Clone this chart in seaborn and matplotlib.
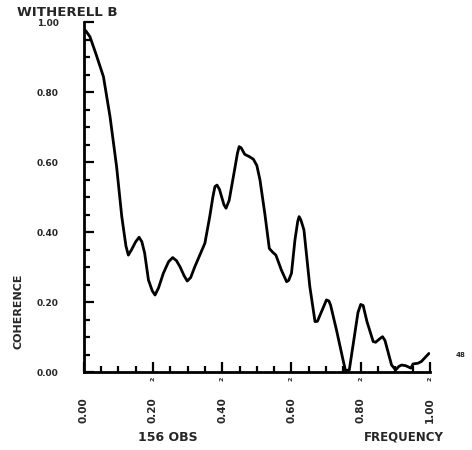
import numpy as np
import pandas as pd
import matplotlib
matplotlib.use("Agg")
import matplotlib.pyplot as plt
import seaborn as sns

# ---- data ----
freq = [0.000, 0.006, 0.018, 0.035, 0.057, 0.076, 0.095, 0.110, 0.122, 0.129,
        0.138, 0.150, 0.160, 0.168, 0.176, 0.187, 0.198, 0.206, 0.216, 0.230,
        0.245, 0.257, 0.268, 0.278, 0.290, 0.299, 0.309, 0.321, 0.350, 0.364,
        0.373, 0.379, 0.385, 0.392, 0.405, 0.411, 0.420, 0.434, 0.444, 0.449,
        0.455, 0.465, 0.479, 0.490, 0.500, 0.509, 0.523, 0.536, 0.546, 0.555,
        0.571, 0.586, 0.592, 0.600, 0.610, 0.618, 0.622, 0.627, 0.636, 0.653,
        0.668, 0.675, 0.690, 0.701, 0.708, 0.713, 0.730, 0.749, 0.756, 0.767,
        0.780, 0.792, 0.800, 0.807, 0.818, 0.836, 0.843, 0.856, 0.863, 0.870,
        0.889, 0.901, 0.910, 0.918, 0.930, 0.945, 0.951, 0.965, 0.975, 0.997]
coherence = [0.977, 0.975, 0.958, 0.910, 0.844, 0.730, 0.587, 0.444, 0.360, 0.334,
             0.349, 0.372, 0.385, 0.372, 0.340, 0.263, 0.232, 0.220, 0.240, 0.282,
             0.315, 0.327, 0.318, 0.301, 0.275, 0.260, 0.270, 0.301, 0.368, 0.444,
             0.500, 0.530, 0.534, 0.522, 0.478, 0.468, 0.490, 0.568, 0.625, 0.644,
             0.640, 0.622, 0.615, 0.608, 0.590, 0.549, 0.453, 0.353, 0.342, 0.334,
             0.291, 0.258, 0.262, 0.282, 0.377, 0.430, 0.444, 0.435, 0.406, 0.244,
             0.144, 0.145, 0.180, 0.206, 0.203, 0.191, 0.120, 0.034, 0.004, 0.006,
             0.091, 0.170, 0.193, 0.190, 0.144, 0.087, 0.085, 0.096, 0.101, 0.090,
             0.020, 0.006, 0.016, 0.020, 0.018, 0.011, 0.023, 0.025, 0.030, 0.053]

x_ticks = [0.0, 0.2, 0.4, 0.6, 0.8, 1.0]
x_tick_labels = ["0.00", "0.20", "0.40", "0.60", "0.80", "1.00"]
y_ticks = [0.0, 0.2, 0.4, 0.6, 0.8, 1.0]
y_tick_labels = ["0.00", "0.20", "0.40", "0.60", "0.80", "1.00"]

title = "WITHERELL B"
y_label = "COHERENCE"
obs_label = "156 OBS"
x_label = "FREQUENCY"
corner_note = "48"

df = pd.DataFrame({"freq": freq, "coherence": coherence})

sns.set_style("ticks")
plt.rcParams["font.family"] = ["DejaVu Sans"]
plt.rcParams["font.weight"] = "bold"

fig = plt.figure(figsize=(4.72, 4.5), dpi=100)
ax = fig.add_axes([0.1773, 0.1733, 0.7337, 0.7778])

sns.lineplot(data=df, x="freq", y="coherence", ax=ax, color="black",
             linewidth=2.0, estimator=None)
ax.lines[0].set_solid_joinstyle("round")

ax.set_xlim(0, 1.0)
ax.set_ylim(0, 1.0)
ax.set_xlabel("")
ax.set_ylabel("")

for s in ["top", "right"]:
    ax.spines[s].set_visible(False)
for s in ["left", "bottom"]:
    ax.spines[s].set_linewidth(2.0)
    ax.spines[s].set_color("black")

ax.set_xticks(x_ticks)
ax.set_xticklabels(x_tick_labels, rotation=90, fontsize=7.5, fontweight="bold")
ax.set_yticks(y_ticks)
ax.set_yticklabels(y_tick_labels, fontsize=6.5, fontweight="bold")
ax.set_xticks(np.arange(0, 1.0001, 0.05), minor=True)
ax.set_yticks(np.arange(0, 1.0001, 0.05), minor=True)
ax.tick_params(axis="both", which="major", direction="in", length=7, width=1.6,
               color="black")
ax.tick_params(axis="x", which="major", pad=18)
ax.tick_params(axis="y", which="major", pad=18)
ax.tick_params(axis="both", which="minor", direction="in", length=4.5, width=1.6,
               color="black")
for t in ax.xaxis.get_major_ticks() + ax.yaxis.get_major_ticks() + \
         ax.xaxis.get_minor_ticks() + ax.yaxis.get_minor_ticks():
    t.tick1line.set_clip_on(False)

# small marks under the major x ticks
for xt in x_ticks[1:]:
    ax.text(xt, -0.02, "2", rotation=90, fontsize=4.5, fontweight="bold",
            ha="center", va="center", transform=ax.transData, clip_on=False)

fig.text(0.036, 0.972, title, fontsize=9.6, fontweight="bold", ha="left", va="center")
fig.text(0.040, 0.309, y_label, fontsize=8, fontweight="bold", rotation=90,
         ha="center", va="center")
fig.text(0.356, 0.028, obs_label, fontsize=9, ha="center", va="center")
fig.text(0.855, 0.028, x_label, fontsize=8.5, ha="center", va="center")
fig.text(0.975, 0.211, corner_note, fontsize=5, ha="center", va="center")

fig.savefig("out.png", dpi=100, facecolor="white")
